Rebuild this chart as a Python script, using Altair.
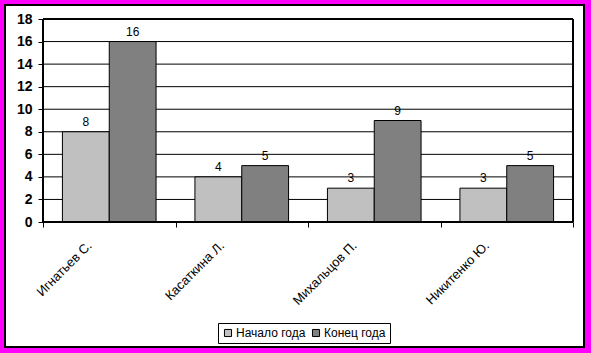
import altair as alt
import pandas as pd

names = ["Игнатьев С.", "Касаткина Л.", "Михальцов П.", "Никитенко Ю."]
series = ["Начало года", "Конец года"]
start_vals = [8, 4, 3, 3]
end_vals = [16, 5, 9, 5]
colors = ["#C0C0C0", "#808080"]
y_ticks = [0, 2, 4, 6, 8, 10, 12, 14, 16, 18]

rows = []
for n, s, e in zip(names, start_vals, end_vals):
    rows.append({"name": n, "series": series[0], "value": s})
    rows.append({"name": n, "series": series[1], "value": e})
df = pd.DataFrame(rows)
grid_df = pd.DataFrame({"value": y_ticks[1:]})

FONT = "Liberation Sans"

yscale = alt.Scale(domain=[0, 18], nice=False)
y_axis = alt.Axis(title=None, values=y_ticks, grid=False, labelOverlap=False,
                  labelFont=FONT, labelFontSize=14, labelFontWeight="bold",
                  labelColor="black", tickSize=5, tickColor="black",
                  domainColor="black", labelPadding=6, zindex=1)

base = alt.Chart(df).encode(
    x=alt.X("name:N", sort=names,
            scale=alt.Scale(paddingInner=0, paddingOuter=0),
            axis=alt.Axis(title=None, labelAngle=-45, labelAlign="right",
                          labelBaseline="middle", labelFont=FONT, labelFontSize=13,
                          labelColor="black", labelPadding=16, labelOffset=-20,
                          tickBand="extent", tickSize=5, tickColor="black",
                          domainColor="black", grid=False, zindex=1)),
    xOffset=alt.XOffset("series:N", sort=series,
                        scale=alt.Scale(paddingOuter=0.415, paddingInner=0)),
)

bars = base.mark_bar(stroke="black", strokeWidth=1).encode(
    y=alt.Y("value:Q", scale=yscale, axis=y_axis),
    color=alt.Color("series:N", sort=series,
                    scale=alt.Scale(domain=series, range=colors),
                    title=None,
                    legend=alt.Legend(orient="none", legendX=175, legendY=304,
                                      direction="horizontal", strokeColor="black",
                                      padding=4, symbolType="square", symbolSize=50,
                                      symbolStrokeColor="black", symbolStrokeWidth=1,
                                      labelFont=FONT, labelFontSize=12,
                                      labelColor="black", columnPadding=4,
                                      labelOffset=2, fillColor="white")),
)

labels = base.mark_text(dy=-10, font=FONT, fontSize=12, color="black").encode(
    y=alt.Y("value:Q", scale=yscale, axis=y_axis),
    text=alt.Text("value:Q"),
)

frame = alt.Chart(df).mark_rect(fill="white", stroke="black", strokeWidth=2).encode(
    x=alt.value(-38), x2=alt.value(541), y=alt.value(-14), y2=alt.value(328)
)

grid = alt.Chart(grid_df).mark_rule(color="black", strokeWidth=1).encode(
    y=alt.Y("value:Q", scale=yscale, axis=y_axis)
)

border = alt.Chart(df).mark_rect(fill=None, fillOpacity=0, stroke="black", strokeWidth=1).encode(
    x=alt.value(0), x2=alt.value(530), y=alt.value(0), y2=alt.value(203)
)

chart = alt.layer(frame, grid, bars, labels, border).properties(
    width=530, height=203,
    autosize=alt.AutoSizeParams(type="none"),
    padding={"left": 43, "top": 19, "right": 18, "bottom": 131},
    background="#FF00FF",
).configure_view(stroke="black", strokeWidth=1, fill="white")

chart.save("out.html", embed_options={"renderer": "svg", "actions": False})
